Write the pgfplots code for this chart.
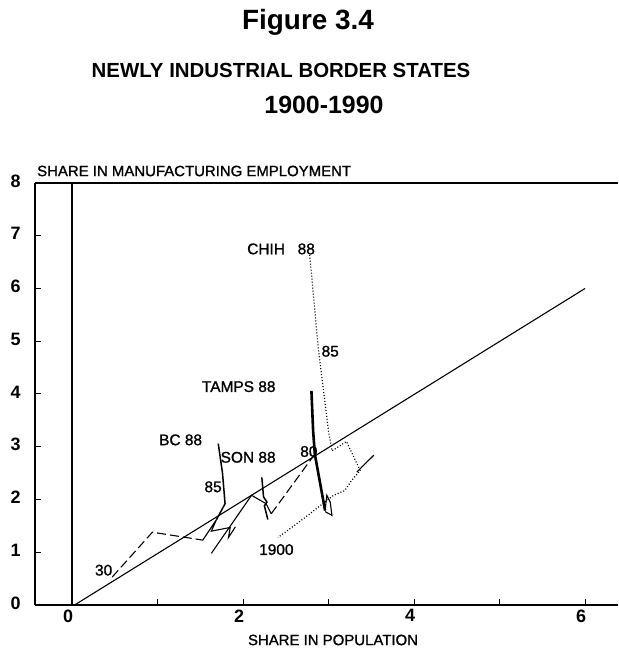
\documentclass[border=0pt]{standalone}
\usepackage{fontspec}
\setmainfont{Liberation Sans}
\newfontfamily\scanfont[FakeBold=1.2]{Liberation Sans}
\usepackage{pgfplots}
\pgfplotsset{compat=1.18}
\usetikzlibrary{calc}
\begin{document}
\begin{tikzpicture}
\begin{axis}[
 scale only axis, width=583bp, height=422bp,
 xmin=-0.433, xmax=6.386, ymin=0, ymax=8,
 axis lines=left, axis line style={-, line width=1.4bp},
 tick align=inside, major tick length=6bp, tick style={line width=1bp, black},
 xtick={0,1,2,3,4,5,6}, xticklabels={0,,2,,4,,6},
 ytick={0,1,2,3,4,5,6,7,8},
 ticklabel style={font=\bfseries\fontsize{18}{18}\selectfont},
 /pgf/number format/assume math mode=true,
 xticklabel style={yshift=-1bp, xshift=-4bp},
 yticklabel style={xshift=-11bp, yshift=2bp},
 clip=false,
]
\draw[line width=1.4bp] (rel axis cs:0,1) -- (rel axis cs:1,1);
% vertical line at x=0 and 45 degree line
\addplot[black, line width=1.1bp] coordinates {(0,0) (0,8)};
\addplot[black, line width=1.1bp] coordinates {(0.03,0) (6,6)};
% BC
\addplot[black, line width=1.1bp, dash pattern=on 9bp off 4bp] coordinates {(0.47,0.53) (0.94,1.38) (1.53,1.23)};
\addplot[black, line width=1.1bp] coordinates {(1.53,1.23) (1.69,1.62) (1.63,1.40) (1.85,1.47) (1.83,1.28) (1.91,1.48)};
\addplot[black, line width=1.5bp] coordinates {(1.69,1.62) (1.79,1.92) (1.76,2.5) (1.71,3.06)};
% SON
\addplot[black, line width=1.1bp] coordinates {(1.63,0.98) (2.10,2.08) (2.27,1.92) (2.33,1.73)};
\addplot[black, line width=1.1bp, dash pattern=on 9bp off 4bp] coordinates {(2.33,1.73) (2.84,2.86)};
\addplot[black, line width=1.5bp] coordinates {(2.22,2.42) (2.24,2.05) (2.28,1.95) (2.25,1.88) (2.29,1.62)};
% TAMPS
\addplot[black, line width=2.6bp] coordinates {(2.80,4.06) (2.82,3.30) (2.84,2.86) (2.96,1.79)};
\addplot[black, line width=1.1bp] coordinates {(2.96,1.79) (2.98,2.08) (3.02,1.95) (3.04,1.70) (2.96,1.77)};
% CHIH
\addplot[black, line width=1.2bp, dash pattern=on 1bp off 2bp] coordinates {(2.78,6.64) (2.88,4.87) (3.00,3.30) (3.04,2.92) (3.21,3.10) (3.37,2.55) (3.27,2.36) (3.19,2.17) (3.06,2.08) (2.71,1.64) (2.41,1.28)};
\addplot[black, line width=1.1bp] coordinates {(3.33,2.52) (3.53,2.84)};
% labels
\begin{scope}[every node/.style={font=\scanfont\fontsize{15.5}{15.5}\selectfont, inner sep=0pt}]
\node at (axis cs:2.27,6.75) {CHIH};
\node at (axis cs:2.74,6.75) {88};
\node at (axis cs:3.02,4.81) {85};
\node at (axis cs:1.95,4.14) {TAMPS 88};
\node at (axis cs:1.27,3.13) {BC 88};
\node at (axis cs:2.06,2.80) {SON 88};
\node at (axis cs:1.65,2.24) {85};
\node at (axis cs:2.77,2.91) {80};
\node at (axis cs:2.39,1.05) {1900};
\node at (axis cs:0.37,0.66) {30};
\end{scope}
\end{axis}
\node[font=\bfseries\fontsize{28}{28}\selectfont] at ($(current axis.north west)+(273bp,161bp)$) {Figure 3.4};
\node[font=\bfseries\fontsize{20.5}{20.5}\selectfont] at ($(current axis.north west)+(246bp,113bp)$) {NEWLY INDUSTRIAL BORDER STATES};
\node[font=\bfseries\fontsize{25}{25}\selectfont] at ($(current axis.north west)+(289bp,78bp)$) {1900-1990};
\node[font=\scanfont\fontsize{15}{15}\selectfont, anchor=west, inner sep=0pt] at ($(current axis.north west)+(2bp,12bp)$) {SHARE IN MANUFACTURING EMPLOYMENT};
\node[font=\scanfont\fontsize{15}{15}\selectfont] at ($(current axis.south west)+(298bp,-35bp)$) {SHARE IN POPULATION};
\pgfresetboundingbox
\path ($(current axis.south west)+(-35bp,-48bp)$) rectangle ($(current axis.north east)+(0bp,183bp)$);
\end{tikzpicture}
\end{document}
